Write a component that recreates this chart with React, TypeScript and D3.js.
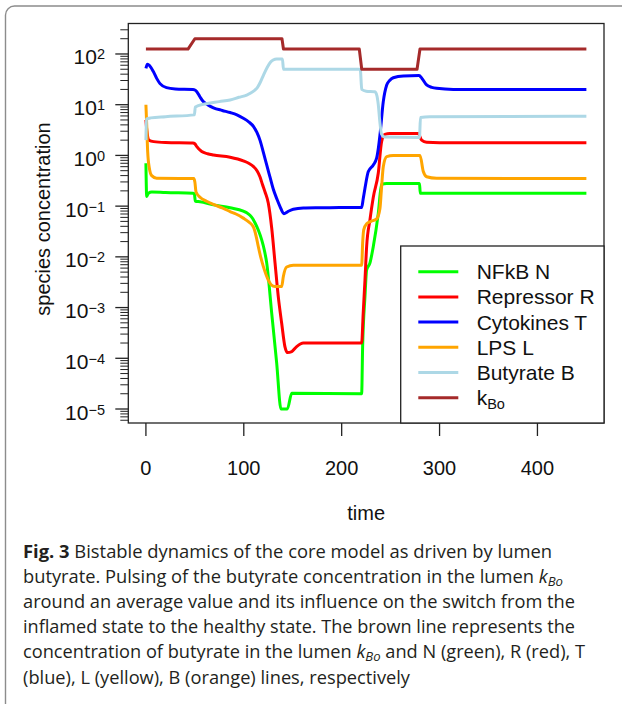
import React from "react";
import * as d3 from "d3";

// ---------- data (time, concentration) ----------
const kboT = [0, 43, 50, 139, 140.5, 218, 220.5, 277, 280, 450];
const kboV = [125, 125, 200, 200, 125, 125, 50, 50, 125, 125];

const butT = [0, 0.5, 5, 20, 49.5, 50.5, 60, 75, 86, 95, 103, 110, 114, 117, 120, 124, 127, 130, 133.6, 139.5, 140.5, 219, 220.5, 225, 234, 236, 237.4, 239, 240.8, 244, 279.5, 280.5, 290, 450];
const butV = [2, 5.2, 5.5, 5.8, 6.3, 9.0, 10.3, 11.5, 12.4, 14, 15.5, 18.5, 22, 28, 38, 55, 68, 76, 80, 80, 50, 50, 20, 18.5, 18, 15, 10, 4.6, 2.6, 2.3, 2.25, 5.6, 5.8, 5.9];

const cytT = [0, 1.5, 4, 7.6, 11, 14.4, 21, 30, 48, 50, 52, 55, 58.6, 63, 69, 78, 86, 93, 99.5, 105, 110, 113.5, 116.5, 120, 123.4, 127, 130, 134, 137, 141, 145, 150.6, 160.8, 175, 220.4, 222, 223.8, 227.2, 232.3, 235.7, 237.5, 239.1, 242.5, 246, 249, 252.7, 263, 279, 282, 286.8, 292, 297, 314, 450];
const cytV = [52, 63, 58, 45, 33, 26, 21.7, 20.5, 20, 19.5, 18, 14.5, 11.5, 10, 8.7, 7.7, 7.0, 6.3, 5.4, 4.6, 3.7, 2.8, 2.0, 1.15, 0.65, 0.36, 0.22, 0.135, 0.098, 0.071, 0.078, 0.087, 0.092, 0.093, 0.094, 0.14, 0.225, 0.48, 0.65, 0.88, 1.4, 2.5, 11.5, 24.5, 30, 34, 37, 37.5, 33, 24.5, 22, 21, 20, 20];

const repT = [0, 1, 3.2, 8, 20, 48, 50, 52, 57, 63, 69, 86, 99.5, 105, 110, 113.5, 116.5, 119, 121.7, 125, 128.5, 131.9, 135.2, 138.7, 142, 144.5, 149, 154, 160.8, 220.4, 222, 223.8, 225.5, 228.9, 232.3, 237.4, 240.8, 244.2, 249, 278.2, 281.7, 286.8, 300, 450];
const repV = [5, 3, 2.0, 1.87, 1.8, 1.76, 1.7, 1.49, 1.19, 1.08, 1.02, 0.92, 0.78, 0.7, 0.6, 0.5, 0.38, 0.27, 0.19, 0.115, 0.037, 0.0076, 0.00166, 0.00049, 1.7e-4, 1.3e-4, 1.36e-4, 1.7e-4, 2.0e-4, 2.0e-4, 7.8e-4, 0.0035, 0.016, 0.054, 0.15, 0.45, 1.87, 2.6, 2.7, 2.7, 2.0, 1.82, 1.78, 1.78];

const lpsT = [0, 0.8, 1.8, 3.5, 5.9, 11, 49, 50, 51.2, 55.3, 62, 69, 78, 86, 92, 99.5, 105, 110, 112.5, 114.8, 117.5, 120, 125, 128, 131.9, 138.7, 140.4, 143.8, 150.6, 220.4, 221.5, 222.5, 225.5, 230, 235.7, 239.1, 240.5, 242.5, 246, 252.7, 280, 283.4, 286.8, 297, 450];
const lpsV = [10, 4, 1.19, 0.56, 0.40, 0.355, 0.35, 0.3, 0.19, 0.15, 0.125, 0.108, 0.092, 0.078, 0.07, 0.058, 0.049, 0.038, 0.026, 0.016, 0.0095, 0.0064, 0.0035, 0.0028, 0.0026, 0.0026, 0.0041, 0.0063, 0.0068, 0.0068, 0.02, 0.034, 0.045, 0.05, 0.056, 0.09, 0.2, 0.6, 0.95, 1.0, 1.0, 0.48, 0.38, 0.355, 0.35];

const nfkT = [0, 0.8, 2.5, 6, 20, 48, 49.5, 50.5, 55.3, 69, 86, 99.5, 103, 106.3, 109, 111.4, 115, 118.3, 121, 123.4, 128.5, 133.6, 138, 144.5, 149, 220.4, 221.4, 223.8, 225.5, 228.9, 232.3, 237.4, 240.8, 246, 279.5, 280.3, 290, 450];
const nfkV = [0.70, 0.155, 0.18, 0.19, 0.185, 0.18, 0.175, 0.125, 0.122, 0.106, 0.093, 0.08, 0.074, 0.066, 0.057, 0.047, 0.033, 0.0216, 0.0135, 0.0076, 7.8e-4, 8e-5, 1e-5, 1e-5, 2.05e-5, 2.0e-5, 1.7e-4, 0.00166, 0.0055, 0.0076, 0.016, 0.072, 0.27, 0.28, 0.28, 0.18, 0.18, 0.18];

const seriesNames = ["NFkB N", "Repressor R", "Cytokines T", "LPS L", "Butyrate B", "kBo"];
const seriesColors = ["#00ff00", "#ff0000", "#0000ff", "#ffa500", "#add8e6", "#a52a2a"];
const seriesTimes = [nfkT, repT, cytT, lpsT, butT, kboT];
const seriesValues = [nfkV, repV, cytV, lpsV, butV, kboV];

const xTicks = [0, 100, 200, 300, 400];
const yExponents = [2, 1, 0, -1, -2, -3, -4, -5];

const captionLines = [
  "Fig. 3 Bistable dynamics of the core model as driven by lumen",
  "butyrate. Pulsing of the butyrate concentration in the lumen kBo",
  "around an average value and its influence on the switch from the",
  "inflamed state to the healthy state. The brown line represents the",
  "concentration of butyrate in the lumen kBo and N (green), R (red), T",
  "(blue), L (yellow), B (orange) lines, respectively",
];

// ---------- layout ----------
const W = 622;
const H = 704;
const left = 128.3, right = 604, top = 23.5, bottom = 423;

export default function App() {
  const x = d3.scaleLinear().domain([-18, 468]).range([left, right]);
  const y = d3.scaleLog().domain([Math.pow(10, -5.276), Math.pow(10, 2.601)]).range([bottom, top]);

  const line = d3
    .line<[number, number]>()
    .x((d) => x(d[0]))
    .y((d) => y(d[1]))
    .curve(d3.curveMonotoneX);
  const lineLin = d3
    .line<[number, number]>()
    .x((d) => x(d[0]))
    .y((d) => y(d[1]));

  // minor ticks
  const minor: number[] = [];
  for (let e = -6; e <= 2; e++) {
    for (let m = 2; m <= 9; m++) {
      const v = m * Math.pow(10, e);
      const py = y(v);
      if (py >= top && py <= bottom) minor.push(v);
    }
  }

  const axisFont = "'Liberation Sans', Arial, Helvetica, sans-serif";
  const capFont = "'Open Sans', 'Noto Sans', sans-serif";

  const legendX0 = 400.7;
  const legendY0 = 246;
  const rowY = (i: number) => 271.7 + 25.2 * i;

  const capX = 23;
  const capBase = 557.5;
  const capStep = 25.2;
  const capLens = [529, 540, 552, 552, 562, 387];
  const capFs = 17.5;

  const renderCaption = (i: number) => {
    const s = captionLines[i];
    const props = {
      key: i,
      x: capX,
      y: capBase + capStep * i,
      fontFamily: capFont,
      fontSize: capFs,
      fill: "#231f20",
      textLength: capLens[i],
      lengthAdjust: "spacingAndGlyphs" as const,
    };
    if (i === 0) {
      return (
        <text {...props}>
          <tspan fontWeight="bold">Fig. 3</tspan>
          <tspan>{s.slice(6)}</tspan>
        </text>
      );
    }
    if (i === 1 || i === 4) {
      const idx = s.indexOf("kBo");
      const before = s.slice(0, idx);
      const after = s.slice(idx + 3);
      return (
        <text {...props}>
          <tspan>{before}</tspan>
          <tspan fontStyle="italic">k</tspan>
          <tspan fontStyle="italic" fontSize={capFs * 0.72} dy={3}>Bo</tspan>
          {after ? <tspan dy={-3}>{after}</tspan> : null}
        </text>
      );
    }
    return <text {...props}>{s}</text>;
  };

  return (
    <svg
      width={W}
      height={H}
      viewBox={`0 0 ${W} ${H}`}
      style={{ position: "absolute", left: 0, top: 0, display: "block", background: "#fff" }}
    >
      <rect x={0} y={0} width={W} height={H} fill="#fff" />
      {/* outer frame */}
      <rect x={5.5} y={6} width={W + 20} height={H + 20} rx={9} ry={9} fill="none" stroke="#8c8c8c" strokeWidth={1.4} />

      {/* series */}
      {seriesTimes.map((ts, si) => {
        const pts = ts.map((t, i) => [t, seriesValues[si][i]] as [number, number]);
        const d = si === 5 ? lineLin(pts) : line(pts);
        return (
          <path key={si} d={d || ""} fill="none" stroke={seriesColors[si]} strokeWidth={3} strokeLinejoin="round" strokeLinecap="butt" />
        );
      })}

      {/* plot box */}
      <rect x={left} y={top} width={right - left} height={bottom - top} fill="none" stroke="#222" strokeWidth={1.3} />

      {/* x ticks */}
      {xTicks.map((t) => (
        <g key={t}>
          <line x1={x(t)} x2={x(t)} y1={bottom} y2={bottom + 13} stroke="#222" strokeWidth={1.3} />
          <text x={x(t)} y={475} textAnchor="middle" fontFamily={axisFont} fontSize={20} fill="#111">
            {t}
          </text>
        </g>
      ))}
      <text x={(left + right) / 2} y={520} textAnchor="middle" fontFamily={axisFont} fontSize={20} fill="#111">
        time
      </text>

      {/* y ticks */}
      {minor.map((v, i) => (
        <line key={"m" + i} x1={left - 8} x2={left} y1={y(v)} y2={y(v)} stroke="#222" strokeWidth={1} />
      ))}
      {yExponents.map((e) => {
        const py = y(Math.pow(10, e));
        return (
          <g key={e}>
            <line x1={left - 13} x2={left} y1={py} y2={py} stroke="#222" strokeWidth={1.3} />
            <text x={105} y={py + 10.5} textAnchor="end" fontFamily={axisFont} fontSize={21} fill="#111">
              <tspan>10</tspan>
              <tspan fontSize={14.5} dy={-5}>{e < 0 ? "\u2212" + Math.abs(e) : String(e)}</tspan>
            </text>
          </g>
        );
      })}
      <text
        transform={`translate(50,219) rotate(-90)`}
        textAnchor="middle"
        fontFamily={axisFont}
        fontSize={20}
        fill="#111"
      >
        species concentration
      </text>

      {/* legend */}
      <rect x={legendX0} y={legendY0} width={right - legendX0} height={bottom - legendY0} fill="#fff" stroke="#222" strokeWidth={1.3} />
      {seriesNames.map((n, i) => (
        <g key={n}>
          <line x1={418.3} x2={458.3} y1={rowY(i)} y2={rowY(i)} stroke={seriesColors[i]} strokeWidth={3} />
          {i < 5 ? (
            <text x={476.7} y={rowY(i) + 7.5} fontFamily={axisFont} fontSize={21} fill="#111">
              {n}
            </text>
          ) : (
            <text x={476.7} y={rowY(i) + 7.5} fontFamily={axisFont} fontSize={21} fill="#111">
              <tspan>k</tspan>
              <tspan fontSize={14.5} dy={4}>Bo</tspan>
            </text>
          )}
        </g>
      ))}

      {/* caption */}
      {captionLines.map((_, i) => renderCaption(i))}
    </svg>
  );
}
